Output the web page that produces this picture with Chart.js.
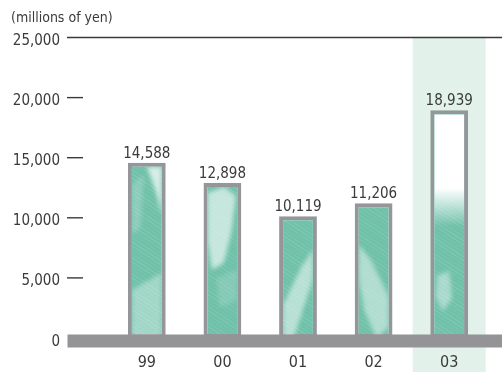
<!DOCTYPE html>
<html>
<head>
<meta charset="utf-8">
<script src="https://cdn.jsdelivr.net/npm/chart.js@4"></script>
<style>
  html, body { margin: 0; padding: 0; background: #ffffff; }
  #wrap { width: 502px; height: 372px; position: relative; }
</style>
</head>
<body>
<div id="wrap"><canvas id="c" width="502" height="372"></canvas></div>
<script>
// Fiscal years and values (millions of yen)
const years = ['99', '00', '01', '02', '03'];
const values = [14588, 12898, 10119, 11206, 18939];
const yTicks = [0, 5000, 10000, 15000, 20000, 25000];
const unitLabel = '(millions of yen)';
const highlightYear = '03';

const FONT = '"DejaVu Sans Condensed", "DejaVu Sans", sans-serif';
const TEXT = '#3a3a3a';
const RULE = '#3a3a3a';
const BAR_EDGE = '#95969a';
const BASE_GRAY = '#949497';
const GREEN = '#6fc1a8';
const BAND = '#e2f2ea';

// Light washes painted inside each bar, in fractions of the bar's inner box
const washes = [
  [{ a: 0.7,  p: [[0.5,0],[1,0],[1,0.28],[0.8,0.14]] },
   { a: 0.35, p: [[0,0.72],[1,0.62],[1,1],[0,1]] },
   { a: 0.2,  p: [[0,0.1],[0.4,0.05],[0.3,0.35],[0,0.4]] }],
  [{ a: 0.6,  p: [[0,0.04],[0.55,0.0],[0.95,0.06],[0.8,0.3],[0.55,0.5],[0.15,0.55],[0,0.35]] },
   { a: 0.15, p: [[0.3,0.6],[1,0.55],[1,0.75],[0.4,0.8]] }],
  [{ a: 0.5,  p: [[0,0.72],[0.6,0.4],[1,0.25],[1,0.5],[0.55,0.85],[0.35,1],[0,1]] }],
  [{ a: 0.45, p: [[0,0.28],[0.45,0.42],[1,0.68],[1,0.92],[0.6,1],[0.2,0.8],[0,0.55]] }],
  [{ a: 0.4,  p: [[0.1,0.72],[0.5,0.7],[0.6,0.82],[0.3,0.88],[0.05,0.82]] }]
];

function innerBox(bar, bw) {
  const p = bar.getProps(['x', 'y', 'base', 'width'], true);
  return { x0: p.x - p.width / 2 + bw, x1: p.x + p.width / 2 - bw, y0: p.y + bw, y1: p.base };
}

const decor = {
  id: 'decor',
  beforeDatasetsDraw(chart) {
    const { ctx, scales: { x, y } } = chart;
    const top = y.getPixelForValue(yTicks[yTicks.length - 1]);
    ctx.save();
    // highlighted year column
    const hx = x.getPixelForValue(years.indexOf(highlightYear));
    ctx.fillStyle = BAND;
    ctx.fillRect(hx - 36.5, top, 73, chart.height - top);

    // y tick labels, tick marks and top rule
    ctx.font = '15px ' + FONT;
    ctx.fillStyle = TEXT;
    ctx.textAlign = 'right';
    ctx.textBaseline = 'alphabetic';
    ctx.strokeStyle = RULE;
    ctx.lineWidth = 1.4;
    yTicks.forEach(v => {
      const py = y.getPixelForValue(v);
      ctx.fillText(v.toLocaleString('en-US'), 60, py + (v === 0 ? 8 : 7));
      if (v === 0) return;
      ctx.beginPath();
      ctx.moveTo(67, py);
      ctx.lineTo(v === yTicks[yTicks.length - 1] ? chart.width : 83, py);
      ctx.stroke();
    });

    // unit caption
    ctx.textAlign = 'left';
    ctx.font = '14px ' + FONT;
    ctx.fillText(unitLabel, 11, 22);
    ctx.restore();
  },
  afterDatasetsDraw(chart) {
    const { ctx, scales: { x, y } } = chart;
    const meta = chart.getDatasetMeta(0);
    const bw = chart.data.datasets[0].borderWidth;
    ctx.save();

    meta.data.forEach((bar, i) => {
      const b = innerBox(bar, bw);
      const w = b.x1 - b.x0, h = b.y1 - b.y0;
      ctx.save();
      ctx.beginPath();
      ctx.rect(b.x0, b.y0, w, h);
      ctx.clip();

      // brush streaks
      ctx.lineWidth = 1.2;
      for (let k = -40; k < h + 40; k += 4) {
        const a = 0.05 + 0.08 * (0.5 + 0.5 * Math.sin(k * 0.37 + i * 1.7));
        ctx.strokeStyle = 'rgba(255,255,255,' + a.toFixed(3) + ')';
        ctx.beginPath();
        ctx.moveTo(b.x0 - 5, b.y0 + k);
        ctx.lineTo(b.x1 + 5, b.y0 + k + 26);
        ctx.stroke();
      }

      // pale washes
      ctx.filter = 'blur(2px)';
      washes[i].forEach(s => {
        ctx.fillStyle = 'rgba(255,255,255,' + s.a + ')';
        ctx.beginPath();
        s.p.forEach(([u, v], j) => {
          const px = b.x0 + u * w, py = b.y0 + v * h;
          j ? ctx.lineTo(px, py) : ctx.moveTo(px, py);
        });
        ctx.closePath();
        ctx.fill();
      });
      ctx.filter = 'none';

      // the highlighted year fades to white at the top
      if (years[i] === highlightYear) {
        const g = ctx.createLinearGradient(0, b.y0, 0, b.y1);
        g.addColorStop(0, 'rgba(255,255,255,1)');
        g.addColorStop(0.33, 'rgba(255,255,255,1)');
        g.addColorStop(0.5, 'rgba(255,255,255,0)');
        ctx.fillStyle = g;
        ctx.fillRect(b.x0, b.y0, w, h);
      }
      ctx.restore();
    });

    // base bar
    const zero = y.getPixelForValue(0);
    ctx.fillStyle = BASE_GRAY;
    ctx.fillRect(67.5, zero - 3.5, chart.width - 67.5, 13);

    // value labels
    ctx.fillStyle = TEXT;
    ctx.font = '15px ' + FONT;
    ctx.textAlign = 'center';
    ctx.textBaseline = 'alphabetic';
    meta.data.forEach((bar, i) => {
      ctx.fillText(values[i].toLocaleString('en-US'), bar.x, bar.y - 5);
    });

    // year labels
    ctx.font = '16px ' + FONT;
    years.forEach((yr, i) => {
      ctx.fillText(yr, x.getPixelForValue(i), 366.5);
    });
    ctx.restore();
  }
};

new Chart(document.getElementById('c'), {
  type: 'bar',
  data: {
    labels: years,
    datasets: [{
      data: values,
      backgroundColor: GREEN,
      borderColor: BAR_EDGE,
      borderWidth: 4,
      borderSkipped: false,
      categoryPercentage: 1,
      barPercentage: 0.5
    }]
  },
  options: {
    responsive: false,
    animation: false,
    devicePixelRatio: 1,
    layout: { padding: { left: 109, right: 15, top: 37.5, bottom: 34 } },
    plugins: { legend: { display: false }, tooltip: { enabled: false } },
    scales: {
      x: { display: false },
      y: { display: false, min: 0, max: 25000 }
    }
  },
  plugins: [decor]
});
</script>
</body>
</html>
